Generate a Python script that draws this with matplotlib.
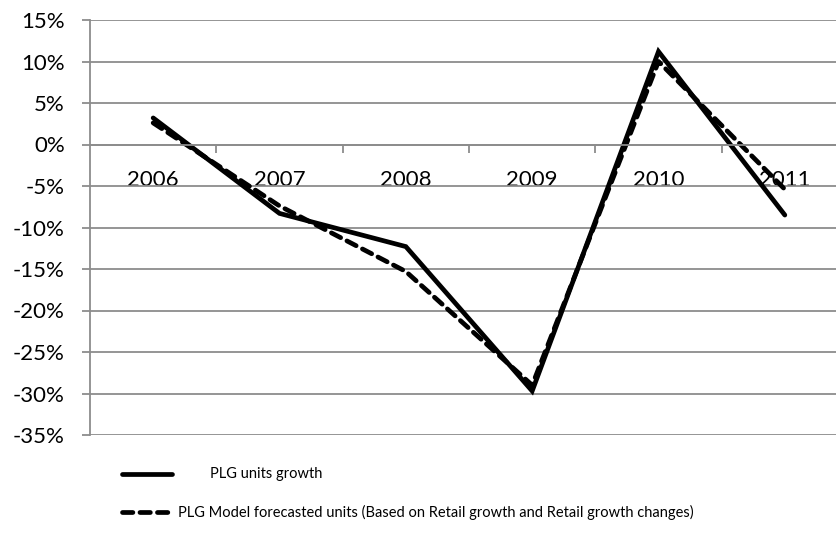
import matplotlib.pyplot as plt
from matplotlib.lines import Line2D
from matplotlib.ticker import FuncFormatter, FixedLocator

years = ['2006', '2007', '2008', '2009', '2010', '2011']
units_growth = [3.2, -8.3, -12.3, -29.7, 11.2, -8.5]
model_forecast = [2.6, -7.4, -15.3, -29.0, 10.0, -5.4]

plt.rcParams['font.family'] = ['Lato', 'DejaVu Sans']
grey = '#8c8c8c'

fig = plt.figure(figsize=(8.37, 5.33), dpi=100)
ax = fig.add_axes([90 / 837, 1 - 435 / 533, 758 / 837, 415 / 533])

x = range(len(years))
ax.plot(x, units_growth, color='black', lw=3.4, solid_joinstyle='miter',
        solid_capstyle='round')
ax.plot(x, model_forecast, color='black', lw=3.4, dashes=(2.2, 1.5),
        dash_capstyle='round', dash_joinstyle='round')

ax.set_xlim(-0.5, 5.5)
ax.set_ylim(-35, 15)
ax.set_yticks(range(-35, 16, 5))
ax.yaxis.set_major_formatter(FuncFormatter(lambda v, p: f'{v:.0f}%'))
ax.grid(axis='y', color=grey, lw=1.3)
ax.set_axisbelow(True)

for s in ['top', 'right']:
    ax.spines[s].set_visible(False)
ax.spines['left'].set_color(grey)
ax.spines['left'].set_linewidth(1.3)
ax.spines['bottom'].set_position(('data', 0))
ax.spines['bottom'].set_color(grey)
ax.spines['bottom'].set_linewidth(1.3)

ax.set_xticks(list(x))
ax.set_xticklabels(years)
ax.xaxis.set_minor_locator(FixedLocator([0.5, 1.5, 2.5, 3.5, 4.5]))
ax.tick_params(axis='x', which='major', length=0, pad=18, labelsize=16)
ax.tick_params(axis='x', which='minor', length=6, width=1.3, color=grey,
               direction='out')
ax.tick_params(axis='y', length=6, width=1.3, color=grey, pad=12,
               labelsize=16)

# legend drawn below the plot area
fig.add_artist(Line2D([122 / 837, 172 / 837], [1 - 474 / 533] * 2,
                      color='black', lw=3.4, solid_capstyle='round'))
fig.text(210 / 837, 1 - 474 / 533, 'PLG units growth', fontsize=10.5,
         va='center', ha='left')
fig.add_artist(Line2D([122 / 837, 172 / 837], [1 - 512 / 533] * 2,
                      color='black', lw=3.4, dashes=(2.2, 1.5),
                      dash_capstyle='round'))
fig.text(178 / 837, 1 - 512 / 533,
         'PLG Model forecasted units (Based on Retail growth and Retail growth changes)',
         fontsize=10.5, va='center', ha='left')

fig.savefig('out.png', dpi=100)
